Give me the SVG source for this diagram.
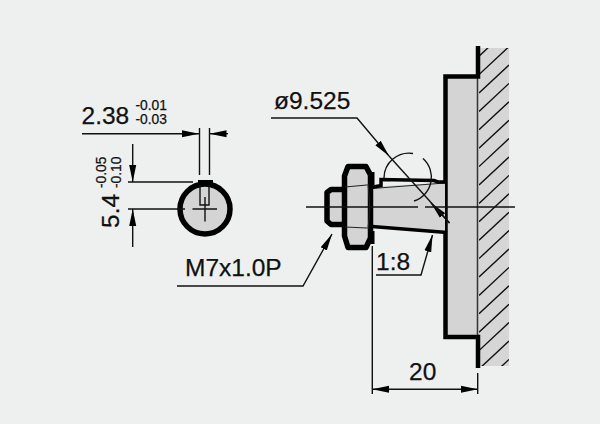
<svg xmlns="http://www.w3.org/2000/svg" width="600" height="424" viewBox="0 0 600 424">
<style>
text{font-family:"Liberation Sans",Arial,sans-serif;fill:#111;stroke:#111;stroke-width:.25}
.big{font-size:24.5px}.sm{font-size:13.8px}
.thin{fill:none;stroke:#111;stroke-width:1.4}
.thick{fill:#d4d4d4;stroke:#000;stroke-width:5.5;stroke-linejoin:round}
.blk{fill:none;stroke:#000;stroke-width:4.5}
.arr{fill:none;stroke:#111;stroke-width:1.4;marker-end:url(#a)}
</style>
<defs>
<marker id="a" markerUnits="userSpaceOnUse" markerWidth="18" markerHeight="8" refX="17" refY="4" orient="auto"><path d="M0 .5L17 4L0 7.500Z" fill="#000"/></marker>
<clipPath id="hc"><rect x="479" y="48" width="30" height="318"/></clipPath>
</defs>
<rect width="600" height="424" fill="#eef0ef"/>
<g id="wall">
<rect x="478" y="48" width="31" height="318" fill="#d6d6d6"/>
<path clip-path="url(#hc)" fill="none" stroke="#111" stroke-width="1.4" d="M509 28.2l-30 28M509 46.6l-30 28M509 65l-30 28M509 83.4l-30 28M509 101.8l-30 28M509 120.2l-30 28M509 138.6l-30 28M509 157l-30 28M509 175.4l-30 28M509 193.8l-30 28M509 212.2l-30 28M509 230.6l-30 28M509 249l-30 28M509 267.4l-30 28M509 285.8l-30 28M509 304.2l-30 28M509 322.6l-30 28M509 341l-30 28M509 359.4l-30 28"/>
</g>
<g id="flange">
<path d="M477.5 76.500H445.500V337H477.500Z" fill="#d4d4d4"/>
<path d="M477.500 76.500V337" fill="none" stroke="#333" stroke-width="1.500"/>
<path class="blk" d="M478 46V76.500H445.500V337H478V368"/>
</g>
<g id="shaft">
<path d="M372 188L381 186L445 183V232L372 227Z" fill="#d4d4d4"/>
<path d="M372 226.500L447 232.500" fill="none" stroke="#000" stroke-width="3.500"/>
<path d="M372 188.500L445 183" fill="none" stroke="#222" stroke-width="1.200"/>
<path d="M371 187.500L381 185.500V179.500L434 180.500L438 182L447 182" fill="none" stroke="#000" stroke-width="3.500"/>
</g>
<g id="bolt">
<path class="thick" d="M344 189.500H331L327 192.500V221L331 224.500H344"/>
</g>
<g id="nut">
<path class="thick" d="M344.500 176L348 166.500H366L370.500 175V238L366 247.500H348L344.500 236Z"/>
<path d="M345 187L367 185M345 227L367 228M368 184Q371 207 368 229" fill="none" stroke="#222" stroke-width="1.200"/>
<path d="M372 172V185M372 231V244" fill="none" stroke="#000" stroke-width="5"/>
</g>
<g id="section">
<circle cx="205" cy="209" r="25" fill="#d4d4d4" stroke="#000" stroke-width="5.500"/>
<path d="M198 182.500H213" fill="none" stroke="#000" stroke-width="5"/>
<path class="thin" d="M200 185V205H209V185" />
<path class="thin" d="M192.500 209H217M205 197V221.500"/>
</g>
<g id="connectors">
<path class="thin" d="M306 207H418M425 207H515"/>
<path class="arr" d="M82 133.700H199"/>
<path class="arr" d="M228 133.700H209.500"/>
<path class="thin" d="M199.500 128V175M209.500 128V175"/>
<path class="arr" d="M132.700 144V182"/>
<path class="arr" d="M132.700 247V209"/>
<path class="thin" d="M128 182H193M128 209H185"/>
<path class="arr" d="M271 118H357L389 156"/>
<path class="arr" d="M449.500 223L431 203"/>
<path class="thin" d="M389 156L449.500 223"/>
<path class="thin" d="M384 178A25 25 0 0 1 413 153.500M423 158.500A25 25 0 0 1 414 201"/>
<path class="arr" d="M177 286H303L332 234"/>
<path class="arr" d="M376 275H421L432.500 235"/>
<path class="thin" d="M372.300 246V394M477.700 373V394"/>
<path class="arr" d="M425 389.300H372.300"/>
<path class="arr" d="M425 389.300H477.700"/>
</g>
<g id="labels">
<text class="big" x="81.500" y="124">2.38</text>
<text class="sm" x="135.500" y="110">-0.01</text>
<text class="sm" x="135.500" y="124">-0.03</text>
<text class="big" transform="translate(119 228) rotate(-90)">5.4</text>
<text class="sm" transform="translate(106 188) rotate(-90)">-0.05</text>
<text class="sm" transform="translate(120.500 188) rotate(-90)">-0.10</text>
<text class="big" x="274" y="109">ø9.525</text>
<text class="big" x="185" y="276">M7x1.0P</text>
<text class="big" x="376" y="270">1:8</text>
<text class="big" x="409" y="379.500">20</text>
</g>
</svg>
